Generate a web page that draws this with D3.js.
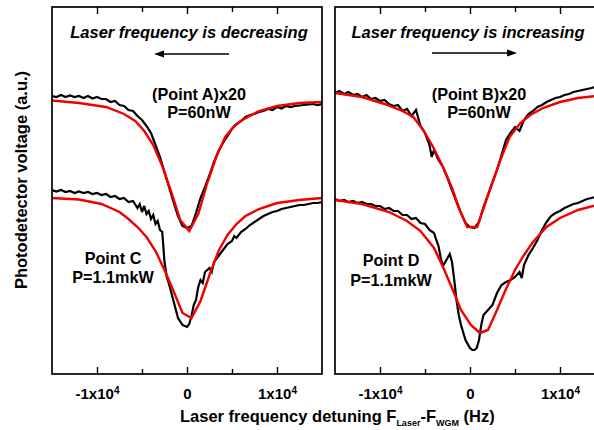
<!DOCTYPE html>
<html><head><meta charset="utf-8">
<script src="https://cdn.jsdelivr.net/npm/d3@7"></script>
<style>
html,body{margin:0;padding:0;background:#fff;}
svg{display:block;}
text{font-family:"Liberation Sans",Arial,sans-serif;font-weight:bold;fill:#000;}
</style></head><body>
<svg id="chart" width="594" height="430"></svg>
<script>
// ---- data (x: detuning in kHz, y: photodetector voltage in a.u.) ----
const majorTicks = [-10000, 0, 10000];
const minorTicks = [-5000, 5000];
const tickMantissa = ["-1x10", "0", "1x10"];
const tickExponent = ["4", "", "4"];

const fitA = [[-15,2.735],[-12,2.71],[-9,2.67],[-7,2.60],[-5.75,2.53],[-4.75,2.43],[-3.75,2.29],[-2.75,2.08],[-1.75,1.82],[-0.75,1.54],[0.25,1.43],[1.25,1.60],[2.25,1.91],[3.25,2.17],[4.25,2.37],[5.25,2.48],[6.25,2.545],[8,2.63],[10,2.68],[12.5,2.71],[15,2.72]];
const dataA = [[-15,2.78],[-14.5,2.77],[-14,2.79],[-13.5,2.77],[-13,2.785],[-12.5,2.77],[-12,2.78],[-11.5,2.76],[-11,2.78],[-10.5,2.755],[-10,2.77],[-9.5,2.75],[-9,2.75],[-8.5,2.72],[-8,2.73],[-7.5,2.69],[-7,2.68],[-6.5,2.64],[-6,2.63],[-5.5,2.58],[-5,2.54],[-4.5,2.48],[-4,2.41],[-3.5,2.29],[-3,2.17],[-2.5,2.02],[-2,1.87],[-1.5,1.72],[-1,1.58],[-0.5,1.48],[0,1.46],[0.5,1.48],[1,1.61],[1.5,1.76],[2,1.87],[2.5,1.99],[3,2.12],[3.5,2.23],[4,2.31],[4.5,2.38],[5,2.45],[5.5,2.50],[6,2.53],[6.5,2.57],[7,2.59],[7.5,2.60],[8,2.62],[8.5,2.63],[9,2.65],[9.5,2.64],[10,2.67],[10.5,2.655],[11,2.68],[11.5,2.67],[12,2.68],[12.5,2.685],[13,2.69],[13.5,2.695],[14,2.70],[14.5,2.69],[15,2.70]];

const fitC = [[-15,1.76],[-12,1.745],[-9.5,1.70],[-7.5,1.62],[-6.5,1.55],[-5.5,1.47],[-4.5,1.37],[-3.5,1.23],[-2.5,1.04],[-1.5,0.83],[-0.5,0.61],[0.5,0.56],[1.5,0.73],[2.5,0.99],[3.5,1.23],[4.5,1.39],[5.5,1.50],[6.5,1.58],[8,1.65],[10,1.71],[12.5,1.74],[15,1.76]];
const dataC = [[-15,1.84],[-14.5,1.825],[-14,1.84],[-13.5,1.82],[-13,1.83],[-12.5,1.81],[-12,1.825],[-11.5,1.81],[-11,1.82],[-10.5,1.80],[-10,1.81],[-9.5,1.79],[-9,1.80],[-8.5,1.77],[-8,1.78],[-7.5,1.75],[-7,1.76],[-6.5,1.72],[-6,1.73],[-5.5,1.66],[-5.25,1.70],[-5,1.62],[-4.75,1.68],[-4.5,1.60],[-4.25,1.63],[-4,1.55],[-3.75,1.59],[-3.5,1.50],[-3.25,1.53],[-3,1.44],[-2.75,1.42],[-2.5,1.12],[-2.25,0.97],[-2,0.90],[-1.5,0.73],[-1,0.56],[-0.5,0.49],[0,0.47],[0.25,0.50],[0.5,0.58],[0.75,0.69],[1,0.74],[1.25,0.87],[1.5,0.94],[1.75,0.91],[2,1.02],[2.5,1.06],[2.75,1.02],[3,1.12],[3.5,1.18],[4,1.24],[4.5,1.30],[5,1.33],[5.25,1.38],[5.5,1.36],[6,1.42],[6.5,1.45],[7,1.49],[7.5,1.52],[8,1.55],[8.5,1.58],[9,1.60],[9.5,1.62],[10,1.63],[10.5,1.65],[11,1.66],[11.5,1.67],[12,1.68],[12.5,1.69],[13,1.69],[13.5,1.70],[14,1.71],[14.5,1.71],[15,1.72]];

const fitB = [[-15,2.81],[-12,2.77],[-9.5,2.70],[-7.5,2.63],[-6.3,2.57],[-5.2,2.44],[-4.1,2.27],[-3.0,2.07],[-2.0,1.86],[-1.1,1.63],[-0.3,1.47],[0.8,1.47],[1.7,1.71],[2.6,1.94],[3.5,2.17],[4.4,2.37],[5.6,2.51],[6.7,2.59],[8.1,2.66],[10,2.72],[12,2.76],[15,2.79]];
const dataB = [[-15,2.81],[-14.5,2.83],[-14,2.80],[-13.5,2.82],[-13,2.79],[-12.5,2.80],[-12,2.77],[-11.5,2.79],[-11,2.75],[-10.5,2.76],[-10,2.73],[-9.5,2.74],[-9,2.70],[-8.5,2.68],[-8,2.69],[-7.5,2.63],[-7,2.65],[-6.5,2.58],[-6,2.64],[-5.75,2.56],[-5.5,2.48],[-5,2.41],[-4.5,2.29],[-4.25,2.17],[-4,2.24],[-3.5,2.14],[-3,2.07],[-2.5,1.96],[-2,1.84],[-1.5,1.72],[-1,1.61],[-0.5,1.51],[0,1.47],[0.5,1.46],[1,1.52],[1.5,1.67],[2,1.79],[2.5,1.92],[3,2.04],[3.5,2.19],[4,2.34],[4.5,2.41],[5,2.47],[5.5,2.43],[6,2.54],[6.5,2.60],[7,2.63],[7.5,2.67],[8,2.69],[8.5,2.72],[9,2.74],[9.5,2.76],[10,2.77],[10.5,2.79],[11,2.80],[11.5,2.82],[12,2.83],[12.5,2.84],[13,2.85],[13.5,2.86],[14,2.87],[14.5,2.88],[15,2.88]];

const fitD = [[-15,1.74],[-12,1.70],[-9,1.62],[-7,1.53],[-5.5,1.43],[-4,1.26],[-3,1.07],[-2,0.86],[-1,0.64],[0.1,0.49],[1.1,0.41],[2.0,0.44],[3.0,0.64],[4.0,0.85],[5.0,1.04],[6.0,1.19],[7.0,1.32],[8.5,1.47],[10,1.56],[12,1.64],[15,1.71]];
const dataD = [[-15,1.75],[-14.5,1.73],[-14,1.74],[-13.5,1.72],[-13,1.73],[-12.5,1.71],[-12,1.72],[-11.5,1.70],[-11,1.70],[-10.5,1.68],[-10,1.68],[-9.5,1.65],[-9,1.66],[-8.5,1.63],[-8,1.63],[-7.5,1.59],[-7,1.59],[-6.5,1.55],[-6,1.56],[-5.5,1.51],[-5,1.50],[-4.5,1.44],[-4,1.41],[-3.75,1.34],[-3.5,1.28],[-3.25,1.16],[-3,1.08],[-2.75,1.12],[-2.5,1.16],[-2.25,1.20],[-2,1.12],[-1.75,0.94],[-1.5,0.74],[-1.25,0.59],[-1,0.49],[-0.5,0.34],[0,0.26],[0.25,0.24],[0.5,0.24],[0.75,0.26],[1,0.34],[1.25,0.49],[1.5,0.59],[2,0.64],[2.5,0.69],[3,0.81],[3.5,0.89],[4,0.92],[4.5,0.94],[5,0.97],[5.5,1.02],[5.75,0.96],[6,1.09],[6.5,1.19],[7,1.26],[7.5,1.34],[8,1.44],[8.5,1.52],[9,1.58],[9.5,1.61],[10,1.63],[10.5,1.66],[11,1.68],[11.5,1.70],[12,1.71],[12.5,1.73],[13,1.75],[13.5,1.76],[14,1.77],[14.5,1.78],[15,1.79]];

const panelTitles = ["Laser frequency is decreasing", "Laser frequency is increasing"];
const upperLabels = [["(Point A)x20", "P=60nW"], ["(Point B)x20", "P=60nW"]];
const lowerLabels = [["Point C", "P=1.1mkW"], ["Point D", "P=1.1mkW"]];

// ---- drawing ----
const svg = d3.select("#chart");
const yTop = 7, yBottom = 374;
const y = d3.scaleLinear().domain([0, 3.67]).range([yBottom, yTop]);

const panels = [
  {x0: 52, x1: 322, fit: [fitA, fitC], data: [dataA, dataC], title: panelTitles[0], tx: 189, arrow: [229, 154, 54],
   up: upperLabels[0], upPos: [199, 100, 118], low: lowerLabels[0], lowPos: [113, 264, 283]},
  {x0: 335, x1: 605, fit: [fitB, fitD], data: [dataB, dataD], title: panelTitles[1], tx: 468, arrow: [432, 517, 53],
   up: upperLabels[1], upPos: [479, 100, 118], low: lowerLabels[1], lowPos: [391, 266, 286]}
];

const defs = svg.append("defs");

panels.forEach((p, pi) => {
  const x = d3.scaleLinear().domain([-15000, 15000]).range([p.x0, p.x1]);
  const g = svg.append("g");
  defs.append("clipPath").attr("id", "clip" + pi)
    .append("rect").attr("x", p.x0).attr("y", yTop).attr("width", p.x1 - p.x0).attr("height", yBottom - yTop);

  const line = d3.line().x(d => x(d[0] * 1000)).y(d => y(d[1]));
  const plot = g.append("g").attr("clip-path", `url(#clip${pi})`);
  p.data.forEach(s => {
    plot.append("path").datum(s).attr("d", line)
      .attr("fill", "none").attr("stroke", "#000").attr("stroke-width", 2.2).attr("stroke-linejoin", "miter")
      .attr("stroke-miterlimit", 3);
  });
  p.fit.forEach(s => {
    plot.append("path").datum(s).attr("d", line)
      .attr("fill", "none").attr("stroke", "#f00000").attr("stroke-width", 2.4).attr("stroke-linejoin", "miter");
  });

  // frame
  g.append("rect").attr("x", p.x0).attr("y", yTop).attr("width", p.x1 - p.x0).attr("height", yBottom - yTop)
    .attr("fill", "none").attr("stroke", "#000").attr("stroke-width", 1.7);

  // bottom axis
  const ax = g.append("g").attr("transform", `translate(0,${yBottom})`)
    .call(d3.axisBottom(x).tickValues(majorTicks).tickSizeInner(-7).tickSizeOuter(0).tickPadding(14)
      .tickFormat((d, i) => tickMantissa[i]));
  ax.select(".domain").remove();
  ax.selectAll(".tick line").attr("stroke", "#000").attr("stroke-width", 1.4);
  ax.selectAll(".tick text").attr("font-size", 15)
    .each(function(d, i) {
      const t = d3.select(this);
      t.text(null);
      t.append("tspan").text(tickMantissa[i]);
      if (tickExponent[i]) t.append("tspan").attr("dy", "-0.45em").attr("font-size", 10).text(tickExponent[i]);
    });
  ax.attr("font-family", null).attr("font-size", null);
  const axm = g.append("g").attr("transform", `translate(0,${yBottom})`)
    .call(d3.axisBottom(x).tickValues(minorTicks).tickSizeInner(-5).tickSizeOuter(0).tickFormat(""));
  axm.select(".domain").remove();
  axm.selectAll(".tick line").attr("stroke-width", 1.4);

  // top axis
  const at = g.append("g").attr("transform", `translate(0,${yTop})`)
    .call(d3.axisTop(x).tickValues(majorTicks).tickSizeInner(-7).tickSizeOuter(0).tickFormat(""));
  at.select(".domain").remove();
  at.selectAll(".tick line").attr("stroke-width", 1.4);
  const atm = g.append("g").attr("transform", `translate(0,${yTop})`)
    .call(d3.axisTop(x).tickValues(minorTicks).tickSizeInner(-5).tickSizeOuter(0).tickFormat(""));
  atm.select(".domain").remove();
  atm.selectAll(".tick line").attr("stroke-width", 1.4);

  // title + arrow
  g.append("text").attr("x", p.tx).attr("y", 38).attr("text-anchor", "middle")
    .attr("font-size", 16.5).attr("font-style", "italic").text(p.title);
  const [ax0, ax1, ay] = p.arrow;
  const dir = Math.sign(ax1 - ax0);
  g.append("line").attr("x1", ax0).attr("x2", ax1 - dir * 6).attr("y1", ay).attr("y2", ay)
    .attr("stroke", "#000").attr("stroke-width", 1.6);
  g.append("path").attr("d", `M${ax1},${ay} L${ax1 - dir * 10},${ay - 3.5} L${ax1 - dir * 10},${ay + 3.5} Z`).attr("fill", "#000");

  // annotations
  const fs = 16.2;
  g.append("text").attr("x", p.upPos[0]).attr("y", p.upPos[1]).attr("text-anchor", "middle").attr("font-size", fs).text(p.up[0]);
  g.append("text").attr("x", p.upPos[0]).attr("y", p.upPos[2]).attr("text-anchor", "middle").attr("font-size", fs).text(p.up[1]);
  g.append("text").attr("x", p.lowPos[0]).attr("y", p.lowPos[1]).attr("text-anchor", "middle").attr("font-size", fs).text(p.low[0]);
  g.append("text").attr("x", p.lowPos[0]).attr("y", p.lowPos[2]).attr("text-anchor", "middle").attr("font-size", fs).text(p.low[1]);
});

// axis titles
svg.append("text").attr("transform", "translate(27,180) rotate(-90)").attr("text-anchor", "middle")
  .attr("font-size", 16.5).text("Photodetector voltage (a.u.)");
const xt = svg.append("text").attr("x", 180).attr("y", 422).attr("font-size", 16.5);
xt.append("tspan").text("Laser frequency detuning F");
xt.append("tspan").attr("dy", 4).attr("font-size", 9).text("Laser");
xt.append("tspan").attr("dy", -4).text("-F");
xt.append("tspan").attr("dy", 4).attr("font-size", 9).text("WGM");
xt.append("tspan").attr("dy", -4).text(" (Hz)");
</script>
</body></html>
